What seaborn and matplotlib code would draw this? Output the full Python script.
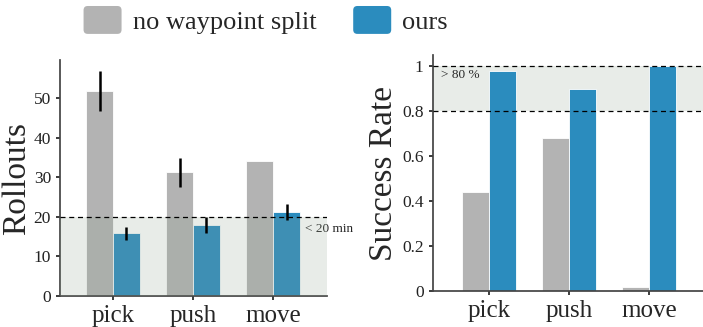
import matplotlib
matplotlib.use('Agg')
import numpy as np
import pandas as pd
import matplotlib.pyplot as plt
import seaborn as sns
from matplotlib.patches import FancyBboxPatch
from matplotlib.legend_handler import HandlerPatch

# Werte
tasks = ["pick", "push", "move"]
methods = ["no waypoint split", "ours"]
rollouts_base = [51.8, 31.2, 34.0]
rollouts_ours = [15.8, 17.9, 21.3]
rollouts_base_err = [5.0, 3.7, np.nan]
rollouts_ours_err = [1.75, 2.1, 2.0]
success_base = [0.44, 0.68, 0.02]
success_ours = [0.98, 0.90, 1.00]
rollout_limit = 20
success_limit = 0.8

colors = ["#b3b3b3", "#2b8cbe"]
shade = (140 / 255, 160 / 255, 140 / 255)

sns.set_theme(style="ticks")
plt.rcParams['font.family'] = ['Liberation Serif', 'DejaVu Serif']

df_roll = pd.DataFrame({
    "task": tasks * 2,
    "method": [methods[0]] * 3 + [methods[1]] * 3,
    "value": rollouts_base + rollouts_ours,
})
df_succ = pd.DataFrame({
    "task": tasks * 2,
    "method": [methods[0]] * 3 + [methods[1]] * 3,
    "value": success_base + success_ours,
})

fig = plt.figure(figsize=(7.03, 3.27), dpi=100)
ax1 = fig.add_axes([0.0853, 0.0948, 0.3797, 0.7217])
ax2 = fig.add_axes([0.6155, 0.1092, 0.3875, 0.7226])

# linke Grafik: Rollouts
sns.barplot(data=df_roll, x="task", y="value", hue="method", hue_order=methods,
            palette=colors, width=0.667, saturation=1, errorbar=None,
            edgecolor="white", linewidth=0.6, ax=ax1, legend=False)
for cont, err in zip(ax1.containers, [rollouts_base_err, rollouts_ours_err]):
    xs = [b.get_x() + b.get_width() / 2 for b in cont]
    ys = [b.get_height() for b in cont]
    ax1.errorbar(xs, ys, yerr=err, fmt="none", ecolor="black", elinewidth=1.8,
                 capsize=0, zorder=5)
ax1.axhspan(0, rollout_limit, color=shade, alpha=0.2, lw=0, zorder=4)
ax1.axhline(rollout_limit, color="black", ls=(0, (4, 3)), lw=0.9, zorder=6)
ax1.text(2.4, 17, "< 20 min", fontsize=9.5, ha="left", va="center", clip_on=False)
ax1.set_xlim(-0.66, 2.67)
ax1.set_ylim(0, 59.6)
ax1.set_yticks([0, 10, 20, 30, 40, 50])
ax1.set_xlabel("")
ax1.set_ylabel("Rollouts", fontsize=24, labelpad=1)

# rechte Grafik: Erfolgsrate
ax2.axhspan(success_limit, 1.0, color=shade, alpha=0.2, lw=0, zorder=0)
sns.barplot(data=df_succ, x="task", y="value", hue="method", hue_order=methods,
            palette=colors, width=0.667, saturation=1, errorbar=None,
            edgecolor="white", linewidth=0.6, ax=ax2, legend=False)
ax2.axhline(success_limit, color="black", ls=(0, (4, 3)), lw=0.9, zorder=6)
ax2.axhline(1.0, color="black", ls=(0, (4, 3)), lw=0.9, zorder=6)
ax2.text(-0.6, 0.96, "> 80 %", fontsize=9.5, ha="left", va="center")
ax2.set_xlim(-0.7, 2.7)
ax2.set_ylim(0, 1.05)
ax2.set_yticks([0, 0.2, 0.4, 0.6, 0.8, 1.0])
ax2.set_yticklabels(["0", "0.2", "0.4", "0.6", "0.8", "1"])
ax2.set_xlabel("")
ax2.set_ylabel("Success Rate", fontsize=24, labelpad=2)

for ax in (ax1, ax2):
    sns.despine(ax=ax)
    ax.tick_params(axis="y", labelsize=12.5, length=3, colors="#222222")
    ax.tick_params(axis="x", labelsize=18, length=3)
    for s in ("left", "bottom"):
        ax.spines[s].set_color("#444444")


class RoundHandler(HandlerPatch):
    def create_artists(self, legend, orig_handle, xdescent, ydescent,
                       width, height, fontsize, trans):
        p = FancyBboxPatch((-xdescent + 1.5, -ydescent + 1.5), width - 3, height - 3,
                           boxstyle="round,pad=1.5,rounding_size=3",
                           facecolor=orig_handle.get_facecolor(), edgecolor="none",
                           transform=trans)
        return [p]


handles = [ax1.containers[0][0], ax1.containers[1][0]]
fig.legend(handles, methods, loc="center", bbox_to_anchor=(0.378, 0.939), ncol=2,
           frameon=False, fontsize=19, handlelength=1.44, handleheight=1.25,
           handletextpad=0.42, columnspacing=1.4,
           handler_map={type(handles[0]): RoundHandler()})

fig.savefig("out.png", dpi=100)
